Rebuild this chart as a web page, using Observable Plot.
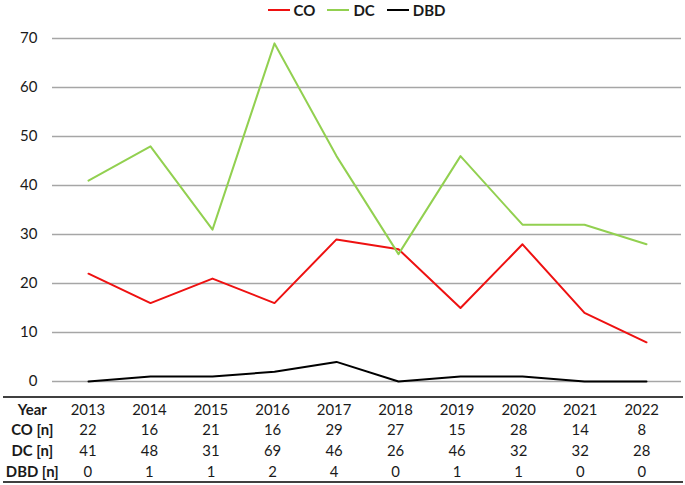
<!DOCTYPE html>
<html>
<head>
<meta charset="utf-8">
<script src="https://cdn.jsdelivr.net/npm/d3@7"></script>
<script src="https://cdn.jsdelivr.net/npm/@observablehq/plot@0.6"></script>
<style>
  html, body { margin: 0; padding: 0; background: #fff; }
  #wrap { width: 685px; height: 485px; font-family: Lato, "Liberation Sans", sans-serif; color: #1a1a1a; }
  #legend { height: 20px; display: flex; justify-content: center; align-items: center; gap: 12px; font-weight: bold; font-size: 15px; padding-left: 28px; box-sizing: border-box; }
  #legend .item { display: flex; align-items: center; gap: 4px; }
  #table { margin-left: 3px; width: 680px; border-top: 2px solid #404040; border-bottom: 2px solid #404040; height: 83px; overflow: hidden; position: relative; margin-top: 1px; }
  #table svg { position: absolute; left: -3px; top: -3px; }
</style>
</head>
<body>
<div id="wrap">
  <div id="legend"></div>
  <div id="chart"></div>
  <div id="table"></div>
</div>
<script>
const years = ["2013","2014","2015","2016","2017","2018","2019","2020","2021","2022"];
const CO  = [22, 16, 21, 16, 29, 27, 15, 28, 14, 8];
const DC  = [41, 48, 31, 69, 46, 26, 46, 32, 32, 28];
const DBD = [0, 1, 1, 2, 4, 0, 1, 1, 0, 0];
const seriesNames = ["CO", "DC", "DBD"];
const seriesColors = ["#ee1111", "#92d050", "#000000"];
const rowLabels = ["Year", "CO [n]", "DC [n]", "DBD [n]"];
const yTicks = [0, 10, 20, 30, 40, 50, 60, 70];

const seriesValues = [CO, DC, DBD];
const long = [];
seriesNames.forEach((s, i) => years.forEach((yr, j) => long.push({series: s, year: yr, value: seriesValues[i][j]})));

// Legend
const legend = document.getElementById("legend");
seriesNames.forEach((s, i) => {
  const it = document.createElement("div");
  it.className = "item";
  it.innerHTML = `<svg width="22" height="4"><line x1="0" x2="22" y1="2" y2="2" stroke="${seriesColors[i]}" stroke-width="2"/></svg><span>${s}</span>`;
  legend.appendChild(it);
});

const xOpts = {type: "point", domain: years, padding: 0.5};

const chart = Plot.plot({
  width: 685,
  height: 375,
  marginTop: 18,
  marginBottom: 14,
  marginLeft: 52,
  marginRight: 4,
  style: {fontFamily: "Lato, 'Liberation Sans', sans-serif", fontSize: "15px", color: "#1a1a1a", background: "#fff"},
  x: {...xOpts, axis: null},
  y: {domain: [0, 70], ticks: yTicks, tickSize: 0, tickPadding: 15, label: null},
  color: {domain: seriesNames, range: seriesColors},
  marks: [
    Plot.ruleY(yTicks, {stroke: "#a6a6a6", strokeWidth: 1.3}),
    Plot.line(long, {x: "year", y: "value", z: "series", stroke: "series", strokeWidth: 2})
  ]
});
document.getElementById("chart").appendChild(chart);

// Table
const cells = [];
years.forEach((yr, j) => {
  cells.push({row: "Year", year: yr, text: yr});
  cells.push({row: "CO [n]", year: yr, text: String(CO[j])});
  cells.push({row: "DC [n]", year: yr, text: String(DC[j])});
  cells.push({row: "DBD [n]", year: yr, text: String(DBD[j])});
});

const table = Plot.plot({
  width: 685,
  height: 90,
  marginTop: 3,
  marginBottom: 1,
  marginLeft: 52,
  marginRight: 4,
  style: {fontFamily: "Lato, 'Liberation Sans', sans-serif", fontSize: "15px", color: "#1a1a1a", background: "transparent"},
  x: {...xOpts, axis: null},
  y: {type: "band", domain: rowLabels, axis: null, padding: 0},
  marks: [
    Plot.text(cells, {x: "year", y: "row", text: "text", fill: "#1a1a1a"}),
    Plot.text(rowLabels, {y: d => d, text: d => d, frameAnchor: "left", dx: -20, textAnchor: "middle", fontWeight: "bold", fill: "#1a1a1a"})
  ]
});
document.getElementById("table").appendChild(table);
</script>
</body>
</html>
